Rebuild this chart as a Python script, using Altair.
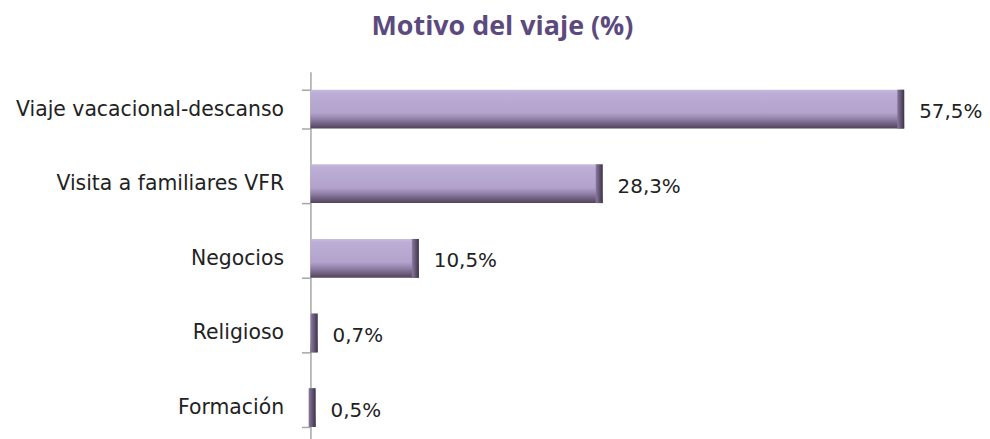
import altair as alt
import pandas as pd

categories = ["Viaje vacacional-descanso", "Visita a familiares VFR", "Negocios", "Religioso", "Formación"]
values = [57.5, 28.3, 10.5, 0.7, 0.5]
labels = ["57,5%", "28,3%", "10,5%", "0,7%", "0,5%"]

df = pd.DataFrame({"cat": categories, "val": values, "lab": labels})

W = 602
H = 375

y_enc = alt.Y("cat:N", sort=categories, title=None,
              scale=alt.Scale(paddingInner=0.48, paddingOuter=0.24),
              axis=alt.Axis(tickBand="extent", domainColor="#a6a6a6", tickColor="#a6a6a6",
                            tickSize=9, domainWidth=1.5, tickWidth=1.5,
                            labelPadding=18, labelFontSize=20.5, labelFont="DejaVu Sans",
                            labelColor="#222222", labelLimit=400))
x_scale = alt.Scale(domain=[0, 58])

face = alt.Gradient(
    gradient="linear", x1=0, x2=0, y1=0, y2=1,
    stops=[alt.GradientStop(offset=0, color="#c9bbde"),
           alt.GradientStop(offset=0.08, color="#bcaed6"),
           alt.GradientStop(offset=0.6, color="#b3a3cc"),
           alt.GradientStop(offset=0.75, color="#9282aa"),
           alt.GradientStop(offset=1, color="#4f4259")])

cap = alt.Gradient(
    gradient="linear", x1=0, x2=1, y1=0, y2=0,
    stops=[alt.GradientStop(offset=0, color="#8a7aa0"),
           alt.GradientStop(offset=1, color="#3e3348")])

base = alt.Chart(df)

bars = base.mark_bar(color=face, size=39).encode(
    x=alt.X("val:Q", scale=x_scale, axis=None),
    y=y_enc,
)

caps = base.mark_bar(color=cap, size=39, xOffset=-7).encode(
    x=alt.X("val:Q", scale=x_scale, axis=None),
    x2="val:Q",
    y=alt.Y("cat:N", sort=categories),
)

text = base.mark_text(align="left", baseline="middle", dx=15, dy=3,
                      font="DejaVu Sans", fontSize=20, color="#222222").encode(
    x=alt.X("val:Q", scale=x_scale),
    y=alt.Y("cat:N", sort=categories),
    text="lab:N",
)

chart = alt.layer(bars, caps, text).properties(
    width=W, height=H,
    autosize=alt.AutoSizeParams(type="none"),
    padding={"left": 304, "top": 63, "right": 73, "bottom": 0},
    title=alt.TitleParams("Motivo del viaje (%)", font="Open Sans", fontSize=27,
                          fontWeight="bold", color="#5c4a7e", anchor="middle",
                          dx=-108, offset=21),
).configure_view(stroke=None)

chart.save("out.html", embed_options={"renderer": "svg", "actions": False})
